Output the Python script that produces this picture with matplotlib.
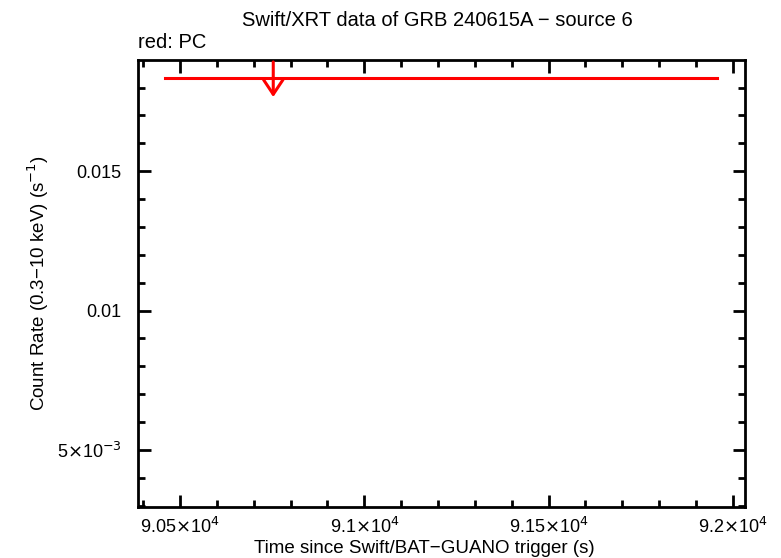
import matplotlib
matplotlib.use("Agg")
import matplotlib.pyplot as plt
from matplotlib.ticker import FixedLocator, MultipleLocator

plt.rcParams["font.family"] = ["Liberation Sans", "DejaVu Sans"]

# PC mode upper limit (time bin edges, rate limit, arrow position)
ul_t_start = [90459.0]
ul_t_stop = [91957.0]
ul_rate = [0.01835]
ul_t_arrow = [90753.0]

x_ticks = [90500, 91000, 91500, 92000]
x_labels = [r"9.05$\times$10$^4$", r"9.1$\times$10$^4$", r"9.15$\times$10$^4$", r"9.2$\times$10$^4$"]
y_ticks = [0.005, 0.01, 0.015]
y_labels = [r"5$\times$10$^{-3}$", "0.01", "0.015"]

fig = plt.figure(figsize=(7.81, 5.58), dpi=100)
ax = fig.add_axes([138 / 781, 1 - 507 / 558, (745 - 138) / 781, (507 - 60) / 558])

for t0, t1, r, ta in zip(ul_t_start, ul_t_stop, ul_rate, ul_t_arrow):
    ax.plot([t0, t1], [r, r], color="red", lw=2.2)
    ax.annotate("", xy=(ta, r - 0.00069), xytext=(ta, r + 0.00057),
                arrowprops=dict(arrowstyle="->,head_length=0.75,head_width=0.5",
                                color="red", lw=2.2, mutation_scale=14,
                                shrinkA=0, shrinkB=0))

ax.set_xlim(90386, 92033)
ax.set_ylim(0.00295, 0.01899)

ax.xaxis.set_major_locator(FixedLocator(x_ticks))
ax.set_xticklabels(x_labels)
ax.xaxis.set_minor_locator(MultipleLocator(100))
ax.yaxis.set_major_locator(FixedLocator(y_ticks))
ax.set_yticklabels(y_labels)
ax.yaxis.set_minor_locator(MultipleLocator(0.001))

ax.tick_params(which="both", direction="in", top=True, right=True, width=2,
               labelsize=13)
ax.tick_params(axis="x", pad=7)
ax.tick_params(axis="y", pad=12)
ax.tick_params(which="major", length=9)
ax.tick_params(which="minor", length=5)
for s in ax.spines.values():
    s.set_linewidth(2)

ax.set_xlabel("Time since Swift/BAT\u2212GUANO trigger (s)", fontsize=13.5)
ax.xaxis.set_label_coords(0.471, -0.073)
ax.set_ylabel("Count Rate (0.3\u221210 keV) (s$^{-1}$)", fontsize=13.5, labelpad=4)
fig.text(437 / 781, 1 - 20 / 558, "Swift/XRT data of GRB 240615A \u2212 source 6",
         ha="center", va="center", fontsize=14.5)
fig.text(138 / 781, 1 - 43 / 558, "red: PC", ha="left", va="center", fontsize=14.5)

fig.savefig("out.png", dpi=100)
